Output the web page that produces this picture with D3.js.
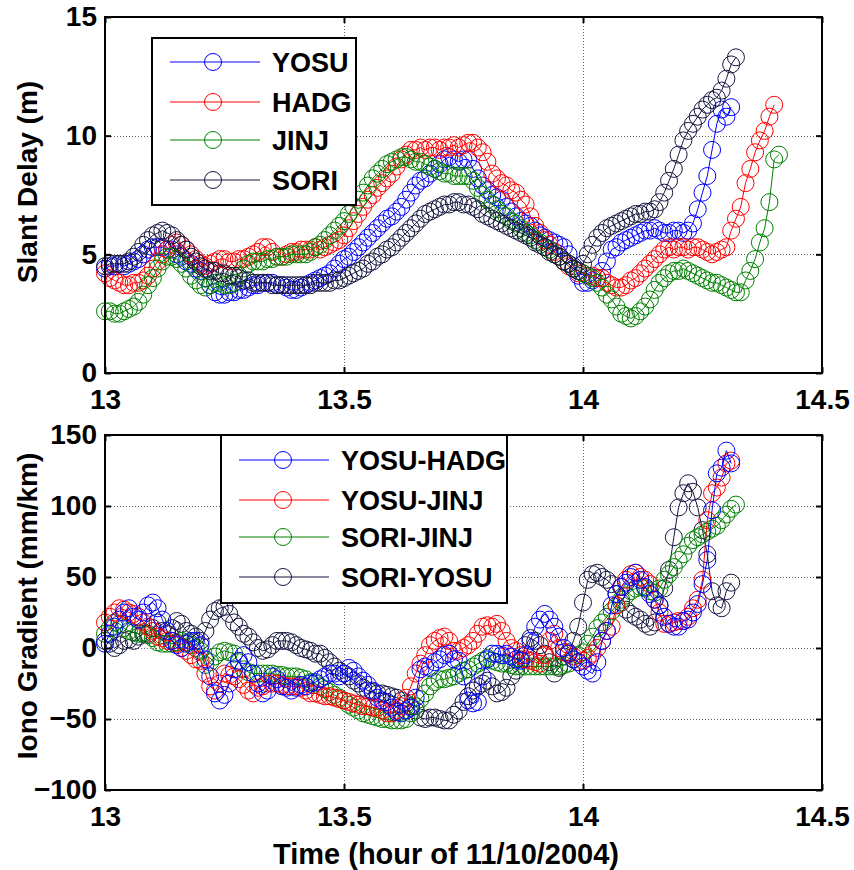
<!DOCTYPE html>
<html>
<head>
<meta charset="utf-8">
<script src="https://cdn.jsdelivr.net/npm/d3@7"></script>
<style>
  html, body { margin: 0; padding: 0; background: #fff; }
  svg { display: block; }
  text { font-family: "Liberation Sans", Arial, sans-serif; font-weight: bold; fill: #000; }
</style>
</head>
<body>
<svg id="chart" width="854" height="870"></svg>
<script>
// ---------------- DATA ----------------
const tStart = 13.0;      // hour
const tStep = 0.01;       // hour between samples

const xTicks = [13, 13.5, 14, 14.5];
const topYTicks = [0, 5, 10, 15];
const botYTicks = [-100, -50, 0, 50, 100, 150];

const topNames = ["YOSU", "HADG", "JINJ", "SORI"];
const botNames = ["YOSU-HADG", "YOSU-JINJ", "SORI-JINJ", "SORI-YOSU"];

// Slant delay (m)
const yosu = [
  4.4, 4.5, 4.5, 4.6, 4.5, 4.6, 4.7, 4.8, 5.0, 5.2,
  5.3, 5.3, 5.3, 5.2, 5.2, 5.0, 4.9, 4.7, 4.6, 4.4,
  4.3, 4.0, 3.7, 3.4, 3.3, 3.3, 3.4, 3.4, 3.5, 3.5,
  3.6, 3.7, 3.7, 3.8, 3.8, 3.8, 3.7, 3.7, 3.6, 3.5,
  3.5, 3.6, 3.7, 3.8, 3.9, 4.0, 4.1, 4.2, 4.4, 4.6,
  4.8, 4.9, 5.1, 5.3, 5.5, 5.7, 5.9, 6.1, 6.3, 6.5,
  6.6, 6.8, 7.0, 7.3, 7.6, 7.9, 8.1, 8.2, 8.4, 8.6,
  8.8, 9.0, 9.1, 9.0, 8.9, 9.0, 9.0, 8.6, 8.2, 7.9,
  7.7, 7.5, 7.4, 7.3, 7.0, 6.8, 6.6, 6.4, 6.3, 6.2,
  6.0, 5.8, 5.7, 5.6, 5.5, 5.4, 5.3, 5.0, 4.5, 4.1,
  3.8, 3.8, 3.9, 4.0, 4.3, 4.7, 5.2, 5.3, 5.5, 5.6,
  5.7, 5.8, 5.9, 6.0, 6.0, 6.1, 6.0, 5.9, 5.9, 6.0,
  6.0, 5.9, 6.0, 6.3, 6.9, 7.6, 8.3, 9.4, 10.5, 11.1,
  10.8, 11.2
];
const hadg = [
  4.2, 4.0, 3.9, 3.8, 3.7, 3.7, 3.8, 3.8, 3.9, 4.1,
  4.4, 4.7, 5.0, 5.2, 5.4, 5.5, 5.4, 5.2, 5.0, 4.8,
  4.6, 4.5, 4.6, 4.7, 4.8, 4.8, 4.7, 4.7, 4.8, 4.8,
  4.9, 5.0, 5.1, 5.3, 5.3, 5.1, 4.9, 4.9, 5.0, 5.1,
  5.1, 5.2, 5.2, 5.2, 5.3, 5.2, 5.3, 5.4, 5.5, 5.6,
  5.8, 6.1, 6.4, 6.7, 7.0, 7.3, 7.5, 7.8, 8.0, 8.2,
  8.4, 8.7, 9.0, 9.2, 9.4, 9.4, 9.5, 9.4, 9.5, 9.5,
  9.4, 9.5, 9.5, 9.6, 9.5, 9.6, 9.7, 9.7, 9.5, 9.3,
  8.9, 8.4, 8.2, 8.0, 7.9, 7.7, 7.6, 7.3, 7.1, 6.6,
  6.2, 5.9, 5.6, 5.4, 5.1, 4.9, 4.7, 4.5, 4.4, 4.2,
  4.2, 4.1, 4.1, 4.0, 4.0, 3.8, 3.7, 3.6, 3.6, 3.7,
  3.9, 4.0, 4.2, 4.4, 4.6, 4.8, 5.0, 5.2, 5.3, 5.2,
  5.3, 5.3, 5.2, 5.3, 5.3, 5.2, 5.1, 5.0, 5.1, 5.2,
  5.3, 6.0, 6.5, 7.0, 8.0, 8.6, 9.3, 9.8, 10.2, 10.8,
  11.3
];
const jinj = [
  2.6, 2.6, 2.5, 2.5, 2.6, 2.7, 2.8, 3.0, 3.3, 3.7,
  4.0, 4.4, 4.7, 4.9, 4.9, 4.8, 4.6, 4.4, 4.1, 3.9,
  3.7, 3.6, 3.7, 3.8, 3.8, 3.7, 3.7, 3.8, 4.1, 4.4,
  4.6, 4.7, 4.7, 4.7, 4.8, 4.8, 4.9, 4.9, 4.9, 5.0,
  5.0, 5.0, 5.0, 5.1, 5.3, 5.4, 5.6, 5.8, 6.0, 6.2,
  6.4, 6.7, 7.0, 7.3, 7.6, 7.9, 8.2, 8.4, 8.6, 8.8,
  8.9, 9.0, 9.1, 9.1, 9.0, 8.9, 8.9, 8.8, 8.7, 8.6,
  8.5, 8.4, 8.4, 8.3, 8.3, 8.3, 8.3, 8.1, 7.8, 7.5,
  7.3, 7.1, 6.9, 6.7, 6.6, 6.4, 6.3, 6.1, 5.9, 5.8,
  5.6, 5.5, 5.3, 5.2, 5.0, 4.9, 4.7, 4.6, 4.4, 4.3,
  4.2, 4.1, 4.0, 3.8, 3.6, 3.3, 3.1, 2.8, 2.5, 2.4,
  2.3, 2.4, 2.6, 2.8, 3.1, 3.5, 3.8, 4.0, 4.2, 4.3,
  4.3, 4.4, 4.3, 4.2, 4.1, 4.0, 3.9, 3.8, 3.8, 3.7,
  3.6, 3.5, 3.4, 3.4, 3.9, 4.3, 4.8, 5.5, 6.1, 7.2,
  9.0, 9.2
];
const sori = [
  4.5, 4.6, 4.6, 4.6, 4.6, 4.7, 4.9, 5.1, 5.4, 5.6,
  5.8, 5.9, 6.0, 5.9, 5.8, 5.6, 5.4, 5.2, 4.9, 4.7,
  4.5, 4.4, 4.3, 4.3, 4.2, 4.2, 4.1, 4.1, 4.0, 3.9,
  3.9, 3.8, 3.8, 3.8, 3.8, 3.7, 3.7, 3.7, 3.7, 3.7,
  3.7, 3.7, 3.7, 3.7, 3.8, 3.8, 3.8, 3.8, 3.9, 3.9,
  4.0, 4.1, 4.2, 4.3, 4.4, 4.6, 4.7, 4.9, 5.0, 5.2,
  5.3, 5.5, 5.7, 5.9, 6.1, 6.3, 6.5, 6.7, 6.8, 6.9,
  7.0, 7.1, 7.1, 7.2, 7.2, 7.1, 7.1, 7.0, 6.9, 6.7,
  6.6, 6.5, 6.4, 6.3, 6.2, 6.1, 6.0, 5.9, 5.8, 5.7,
  5.5, 5.4, 5.3, 5.1, 5.0, 4.9, 4.7, 4.6, 4.4, 4.3,
  4.6, 5.0, 5.4, 5.7, 5.9, 6.1, 6.2, 6.3, 6.4, 6.5,
  6.6, 6.7, 6.7, 6.8, 6.8, 6.9, 7.2, 7.6, 8.1, 8.6,
  9.2, 9.8, 10.2, 10.5, 10.8, 11.1, 11.3, 11.5, 11.6, 11.9,
  12.4, 13.0, 13.3
];

// Iono gradient (mm/km)
const yosuHadg = [
  3, 10, 15, 20, 25, 28, 22, 20, 25, 30,
  32, 28, 20, 12, 5, 2, 0, 3, 5, 5,
  2, -8, -20, -32, -37, -33, -25, -15, -9, -5,
  -10, -18, -25, -32, -30, -20, -22, -27, -28, -30,
  -28, -26, -27, -25, -24, -22, -20, -18, -18, -20,
  -18, -14, -16, -20, -23, -26, -30, -35, -37, -38,
  -42, -45, -46, -44, -42, -35, -15, -13, -14, -10,
  -8, -5, -4, -8, -9, -20, -37, -39, -38, -20,
  -8, -4, -4, -5, -4, -6, -8, -9, -5, 5,
  15, 20, 24, 20, 15, 8, 0, -4, -8, -10,
  -13, -16, -18, -10, 5, 12, 30, 38, 43, 46,
  50, 53, 48, 43, 38, 34, 30, 22, 17, 15,
  15, 19, 20, 25, 31, 45, 62, 97, 123, 127,
  139, 130
];
const yosuJinj = [
  18, 22, 25, 28, 27, 25, 24, 22, 18, 15,
  12, 8, 7, 5, 5, 3, 0, -2, -5, -8,
  -9, -18, -27, -30, -25, -18, -19, -20, -22, -26,
  -30, -32, -28, -27, -25, -25, -25, -26, -27, -27,
  -27, -28, -30, -32, -32, -33, -34, -34, -35, -36,
  -37, -38, -39, -40, -41, -41, -42, -42, -44, -46,
  -46, -44, -41, -35, -27, -18, -11, -5, 2, 5,
  7, 8, 5, -2, -2, 0, 2, 5, 10, 15,
  16, 15, 17, 12, 5, 0, -2, -5, -8, -9,
  -10, -11, -5, 5, 10, 0, -3, -4, -6, -10,
  -9, -7, -4, 0, 5, 12, 15, 30, 43, 48,
  52, 53, 50, 48, 45, 34, 25, 17, 17, 18,
  19, 19, 22, 28, 34, 48, 90, 109, 113, 120,
  130, 132
];
const soriJinj = [
  10, 14, 18, 17, 14, 12, 11, 10, 11, 9,
  7, 4, 3, 3, 3, 4, 5, 4, 2, 0,
  -2, -12, -10, -6, -3, -2, -3, -4, -10, -15,
  -17, -18, -18, -18, -18, -18, -19, -19, -20, -20,
  -20, -21, -22, -24, -25, -27, -29, -31, -33, -35,
  -37, -40, -42, -44, -46, -47, -48, -49, -50, -50,
  -51, -51, -51, -50, -46, -41, -36, -32, -27, -24,
  -22, -22, -21, -20, -18, -16, -15, -13, -11, -9,
  -7, -9, -10, -11, -11, -12, -13, -13, -13, -13,
  -13, -13, -13, -13, -13, -13, -12, -11, -8, -5,
  -3, 3, 8, 14, 18, 22, 26, 30, 34, 37,
  40, 42, 43, 42, 40, 39, 42, 48, 52, 57,
  62, 66, 72, 76, 78, 80, 82, 84, 86, 90,
  94, 98, 101
];
const soriYosu = [
  5, 3, 0, 2, 5, 6, 5, 8, 10, 10,
  14, 18, 12, 10, 14, 19, 17, 12, 10, 8,
  5, 12, 20, 26, 28, 29, 24, 18, 15, 10,
  8, 4, 0, -2, -1, 2, 5, 5, 5, 4,
  2, 0, -1, -2, -4, -4, -7, -10, -13, -16,
  -18, -20, -23, -25, -28, -30, -31, -32, -32, -33,
  -34, -35, -37, -39, -41, -44, -49, -50, -49, -49,
  -50, -51, -51, -47, -44, -38, -34, -30, -27, -25,
  -23, -27, -32, -31, -28, -20, -16, -8, 2, 7,
  5, 2, -4, -10, -18, -14, -6, -3, 5, 15,
  32, 48, 52, 53, 50, 48, 45, 38, 32, 27,
  24, 22, 20, 17, 15, 18, 30, 42, 55, 78,
  99, 109, 116, 110, 99, 83, 66, 40, 30, 28,
  40, 46
];

const colors = ["#0000ff", "#ff0000", "#008000", "#16163f"];

// ---------------- LAYOUT ----------------
const svg = d3.select("#chart");
const X0 = 105, X1 = 822;
const panels = [
  { top: 17, bottom: 373, domain: [0, 15], ticks: topYTicks, grid: [5, 10],
    series: [yosu, hadg, jinj, sori], names: topNames, order: [0, 1, 2, 3],
    label: "Slant Delay (m)", labelY: 182,
    legend: { x: 152, y: 38, w: 204, h: 167, rows: [62, 102, 140, 180], l0: 170, l1: 260, cx: 213, tx: 272 } },
  { top: 435, bottom: 790, domain: [-100, 150], ticks: botYTicks, grid: [-50, 0, 50, 100],
    series: [yosuHadg, yosuJinj, soriJinj, soriYosu], names: botNames, order: [3, 2, 1, 0],
    label: "Iono Gradient (mm/km)", labelY: 606,
    legend: { x: 221, y: 435, w: 286, h: 168, rows: [460, 500, 537, 577], l0: 239, l1: 329, cx: 283, tx: 341 } }
];

const x = d3.scaleLinear().domain([13, 14.5]).range([X0, X1]);
const R = 8.5;

panels.forEach((p, pi) => {
  const y = d3.scaleLinear().domain(p.domain).range([p.bottom, p.top]);
  const g = svg.append("g");

  // grid
  const gridG = g.append("g").attr("stroke", "#666").attr("stroke-width", 1)
    .attr("stroke-dasharray", "1,2").attr("shape-rendering", "crispEdges");
  [13.5, 14].forEach(v => gridG.append("line")
    .attr("x1", Math.round(x(v)) + 0.5).attr("x2", Math.round(x(v)) + 0.5)
    .attr("y1", p.top).attr("y2", p.bottom));
  p.grid.forEach(v => gridG.append("line")
    .attr("x1", X0).attr("x2", X1)
    .attr("y1", Math.round(y(v)) + 0.5).attr("y2", Math.round(y(v)) + 0.5));

  // series
  const line = d3.line().x((d, i) => x(tStart + i * tStep)).y(d => y(d));
  p.order.forEach(k => {
    const data = p.series[k];
    const sg = g.append("g");
    sg.append("path").attr("d", line(data)).attr("fill", "none")
      .attr("stroke", colors[k]).attr("stroke-width", 1);
    sg.selectAll("circle").data(data).join("circle")
      .attr("cx", (d, i) => x(tStart + i * tStep)).attr("cy", d => y(d))
      .attr("r", R).attr("fill", "none").attr("stroke", colors[k]).attr("stroke-width", 1);
  });

  // axes
  const ax = g.append("g").attr("transform", `translate(0,${p.bottom})`)
    .call(d3.axisBottom(x).tickValues(xTicks).tickFormat(d3.format("")).tickSizeInner(-6).tickSizeOuter(0).tickPadding(16));
  const ay = g.append("g").attr("transform", `translate(${X0},0)`)
    .call(d3.axisLeft(y).tickValues(p.ticks).tickFormat(d3.format("")).tickSizeInner(-6).tickSizeOuter(0).tickPadding(8));
  const axT = g.append("g").attr("transform", `translate(0,${p.top})`)
    .call(d3.axisTop(x).tickValues(xTicks).tickFormat("").tickSizeInner(-6).tickSizeOuter(0));
  const ayR = g.append("g").attr("transform", `translate(${X1},0)`)
    .call(d3.axisRight(y).tickValues(p.ticks).tickFormat("").tickSizeInner(-6).tickSizeOuter(0));
  [ax, ay, axT, ayR].forEach(a => {
    a.select(".domain").remove();
    a.selectAll(".tick line").attr("stroke", "#000").attr("stroke-width", 2);
    a.selectAll("text").style("font-size", "28px").style("font-family", "'Liberation Sans', Arial, sans-serif").style("font-weight", "bold").attr("fill", "#000");
  });
  // box
  g.append("rect").attr("x", X0).attr("y", p.top).attr("width", X1 - X0).attr("height", p.bottom - p.top)
    .attr("fill", "none").attr("stroke", "#000").attr("stroke-width", 2);

  // y label
  g.append("text").attr("transform", `translate(37,${p.labelY}) rotate(-90)`)
    .attr("text-anchor", "middle").style("font-size", "28px").text(p.label);

  // legend
  const L = p.legend;
  const lg = g.append("g");
  lg.append("rect").attr("x", L.x).attr("y", L.y).attr("width", L.w).attr("height", L.h)
    .attr("fill", "#fff").attr("stroke", "#000").attr("stroke-width", 2);
  p.names.forEach((nm, k) => {
    const cy = L.rows[k];
    lg.append("line").attr("x1", L.l0).attr("x2", L.l1).attr("y1", cy).attr("y2", cy)
      .attr("stroke", colors[k]).attr("stroke-width", 1);
    lg.append("circle").attr("cx", L.cx).attr("cy", cy).attr("r", R)
      .attr("fill", "none").attr("stroke", colors[k]).attr("stroke-width", 1);
    lg.append("text").attr("x", L.tx).attr("y", cy + 10).style("font-size", "27px").text(nm);
  });
});

// x label
svg.append("text").attr("x", 446).attr("y", 864).attr("text-anchor", "middle")
  .style("font-size", "29px").text("Time (hour of 11/10/2004)");
</script>
</body>
</html>
